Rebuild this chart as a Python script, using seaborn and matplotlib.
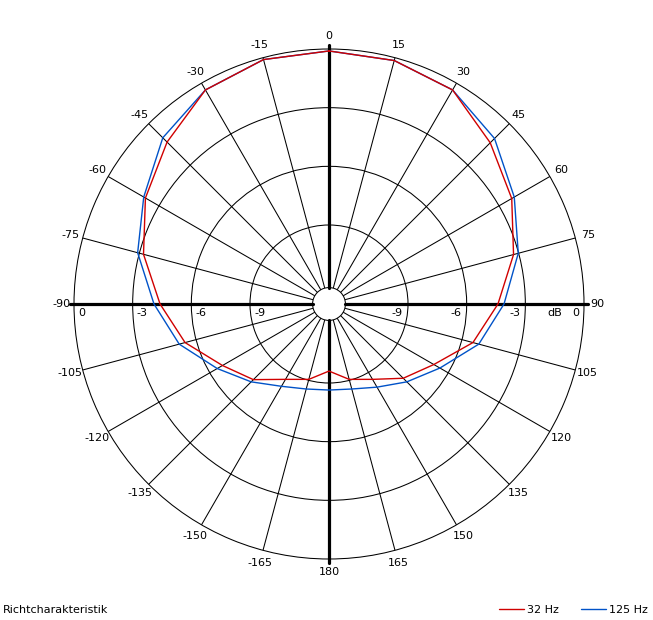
import numpy as np
import pandas as pd
import matplotlib
matplotlib.use('Agg')
import matplotlib.pyplot as plt
from matplotlib.lines import Line2D
import seaborn as sns


# Winkel in Grad (im Uhrzeigersinn ab 0 oben), 360 schliesst die Kurve
winkel = [0, 15, 30, 45, 60, 75, 90, 105, 120, 135, 150, 165, 180,
          195, 210, 225, 240, 255, 270, 285, 300, 315, 330, 345, 360]

# Pegel in dB
pegel_32hz = [-0.1, -0.15, -0.4, -1.38, -2.25, -3.27, -4.4, -5.42, -6.85, -7.67, -8.59, -9.05, -9.61,
              -9.05, -8.59, -7.57, -6.75, -5.42, -4.4, -3.22, -2.2, -1.33, -0.4, -0.1, -0.1]
pegel_125hz = [-0.1, -0.15, -0.4, -1.07, -2.1, -3.02, -4.09, -5.11, -6.49, -7.41, -8.13, -8.54, -8.64,
               -8.54, -8.18, -7.41, -6.44, -5.11, -4.09, -2.91, -2.1, -1.02, -0.4, -0.1, -0.1]

winkel_labels = ['0', '15', '30', '45', '60', '75', '90', '105', '120', '135', '150', '165', '180',
                 '-165', '-150', '-135', '-120', '-105', '-90', '-75', '-60', '-45', '-30', '-15']
ringe = [-9, -6, -3]

farben = {'32 Hz': '#d00000', '125 Hz': '#0052c8'}

df = pd.concat([
    pd.DataFrame({'theta': np.deg2rad(winkel), 'pegel': pegel_125hz, 'frequenz': '125 Hz'}),
    pd.DataFrame({'theta': np.deg2rad(winkel), 'pegel': pegel_32hz, 'frequenz': '32 Hz'}),
])

sns.set_style('white')
plt.rcParams['font.family'] = ['DejaVu Sans']
plt.rcParams['font.size'] = 8
plt.rcParams['text.color'] = 'black'

fig = plt.figure(figsize=(6.53, 6.2), dpi=100)
ax = fig.add_axes([74 / 653, 61 / 620, 510 / 653, 510 / 620], projection='polar')
ax.set_theta_zero_location('N')
ax.set_theta_direction(-1)

# dicke Achsen
for w in [0, 90, 180, 270]:
    ax.plot([np.deg2rad(w)] * 2, [-12.2, 0.22], color='black', lw=2.3, clip_on=False, zorder=2)

sns.lineplot(data=df, x='theta', y='pegel', hue='frequenz', palette=farben,
             sort=False, estimator=None, legend=False, ax=ax, linewidth=1.0, zorder=3)

ax.set_rlim(-12.2, 0)
ax.set_rorigin(-13.04)
ax.set_rticks(ringe)
ax.set_yticklabels([])
ax.set_xticks(np.deg2rad(winkel[:-1]))
ax.set_xticklabels([])
ax.tick_params(length=0)
ax.set_xlabel('')
ax.set_ylabel('')
ax.grid(True, color='black', linewidth=0.75)
for sp in ax.spines.values():
    sp.set_color('black')
    sp.set_linewidth(0.75)

for w, lab in zip(winkel[:-1], winkel_labels):
    ax.text(np.deg2rad(w), 0.66, lab, ha='center', va='center', clip_on=False)

# dB Beschriftung links und rechts
for r, lab in [(0, '0'), (-3, '-3'), (-6, '-6'), (-9, '-9')]:
    ax.annotate(lab, xy=(np.deg2rad(270), r), xytext=(4, -9), textcoords='offset pixels',
                ha='left', va='center', annotation_clip=False)
    ax.annotate(lab, xy=(np.deg2rad(90), r), xytext=(-5, -9), textcoords='offset pixels',
                ha='right', va='center', annotation_clip=False)
ax.annotate('dB', xy=(np.deg2rad(90), -1.5), xytext=(0, -9), textcoords='offset pixels',
            ha='center', va='center', annotation_clip=False)

fig.text(3 / 653, 1 - 610 / 620, 'Richtcharakteristik', ha='left', va='center')

handles = [Line2D([], [], color=farben['32 Hz'], lw=1.0),
           Line2D([], [], color=farben['125 Hz'], lw=1.0)]
fig.legend(handles, ['32 Hz', '125 Hz'], loc='center right',
           bbox_to_anchor=(648 / 653, 1 - 610 / 620), ncol=2, frameon=False,
           handlelength=2.2, handletextpad=0.3, columnspacing=2.0,
           borderpad=0, borderaxespad=0)

fig.savefig('out.png', dpi=100)
